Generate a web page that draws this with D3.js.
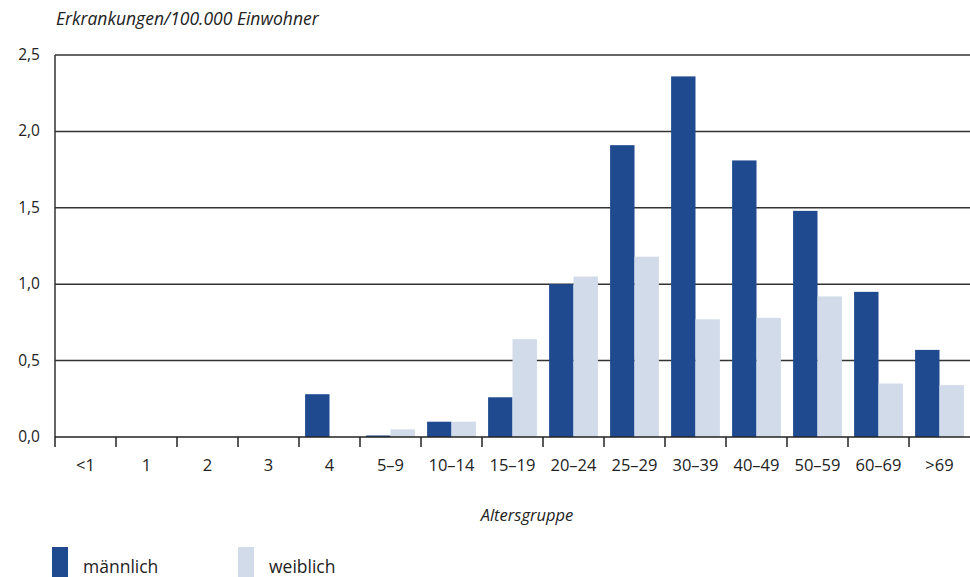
<!DOCTYPE html>
<html>
<head>
<meta charset="utf-8">
<script src="https://cdn.jsdelivr.net/npm/d3@7"></script>
<style>
  body { margin: 0; background: #fff; }
  text { font-family: "Open Sans", Lato, sans-serif; fill: #222; }
</style>
</head>
<body>
<script>
  var categories = ["<1", "1", "2", "3", "4", "5–9", "10–14", "15–19", "20–24", "25–29", "30–39", "40–49", "50–59", "60–69", ">69"];
  var maleValues = [0, 0, 0, 0, 0.28, 0.01, 0.10, 0.26, 1.0, 1.91, 2.36, 1.81, 1.48, 0.95, 0.57];
  var femaleValues = [0, 0, 0, 0, 0, 0.05, 0.10, 0.64, 1.05, 1.18, 0.77, 0.78, 0.92, 0.35, 0.34];
  var yTicks = [0, 0.5, 1.0, 1.5, 2.0, 2.5];
  var seriesNames = ["männlich", "weiblich"];

  var margin = {top: 55, right: 0, bottom: 140, left: 55},
      width = 970 - margin.left - margin.right,
      height = 577 - margin.top - margin.bottom;

  var color = d3.scaleOrdinal()
    .domain(seriesNames)
    .range(["#1f4a8f", "#d1dbe9"]);

  var svg = d3.select("body").append("svg")
      .attr("width", 970)
      .attr("height", 577);

  var g = svg.append("g")
      .attr("transform", "translate(" + margin.left + "," + margin.top + ")");

  var x0 = d3.scaleBand()
    .domain(categories)
    .range([0, width])
    .paddingInner(0.2)
    .paddingOuter(0.1);

  var x1 = d3.scaleBand()
    .domain(seriesNames)
    .range([0, x0.bandwidth()]);

  var y = d3.scaleLinear()
    .domain([0, 2.5])
    .range([height, 0]);

  var fmt = function(d) { return d3.format(".1f")(d).replace(".", ","); };

  // gridlines
  g.selectAll(".grid")
    .data(yTicks.filter(function(d) { return d > 0; }))
    .enter().append("line")
    .attr("x1", 0).attr("x2", width)
    .attr("y1", function(d) { return y(d); })
    .attr("y2", function(d) { return y(d); })
    .attr("stroke", "#333")
    .attr("stroke-width", 1.5);

  // y labels
  g.selectAll(".ylab")
    .data(yTicks)
    .enter().append("text")
    .attr("x", -15)
    .attr("y", function(d) { return y(d) + 5; })
    .attr("text-anchor", "end")
    .style("font-size", "15.5px")
    .text(fmt);

  var data = categories.map(function(c, i) {
    return {cat: c, values: [
      {key: seriesNames[0], v: maleValues[i]},
      {key: seriesNames[1], v: femaleValues[i]}
    ]};
  });

  var groups = g.selectAll(".grp")
    .data(data)
    .enter().append("g")
    .attr("transform", function(d) { return "translate(" + x0(d.cat) + ",0)"; });

  groups.selectAll("rect")
    .data(function(d) { return d.values; })
    .enter().append("rect")
    .attr("x", function(d) { return x1(d.key); })
    .attr("width", x1.bandwidth())
    .attr("y", function(d) { return y(d.v); })
    .attr("height", function(d) { return height - y(d.v); })
    .attr("fill", function(d) { return color(d.key); });

  // axes lines
  g.append("line")
    .attr("x1", 0).attr("x2", 0)
    .attr("y1", 0).attr("y2", height)
    .attr("stroke", "#333").attr("stroke-width", 1.5);
  g.append("line")
    .attr("x1", 0).attr("x2", width)
    .attr("y1", height).attr("y2", height)
    .attr("stroke", "#222").attr("stroke-width", 1.5);

  // category ticks at band boundaries
  var step = x0.step();
  g.selectAll(".tick")
    .data(categories)
    .enter().append("line")
    .attr("x1", function(d) { return x0(d) - x0.paddingOuter() * step; })
    .attr("x2", function(d) { return x0(d) - x0.paddingOuter() * step; })
    .attr("y1", height).attr("y2", height + 10)
    .attr("stroke", "#222").attr("stroke-width", 1.5);

  g.selectAll(".xlab")
    .data(categories)
    .enter().append("text")
    .attr("x", function(d) { return x0(d) + x0.bandwidth() / 2; })
    .attr("y", height + 34)
    .attr("text-anchor", "middle")
    .style("font-size", "16.5px")
    .text(function(d) { return d; });

  // titles
  svg.append("text")
    .attr("x", 56).attr("y", 25)
    .style("font-size", "17.5px")
    .style("font-style", "italic")
    .text("Erkrankungen/100.000 Einwohner");

  svg.append("text")
    .attr("x", 527).attr("y", 521)
    .attr("text-anchor", "middle")
    .style("font-size", "16.5px")
    .style("font-style", "italic")
    .text("Altersgruppe");

  // legend
  var legend = svg.selectAll(".legend")
    .data(seriesNames)
    .enter().append("g")
    .attr("transform", function(d, i) { return "translate(" + (52 + i * 186) + ",547)"; });

  legend.append("rect")
    .attr("width", 16).attr("height", 30)
    .attr("fill", function(d) { return color(d); });

  legend.append("text")
    .attr("x", 31).attr("y", 26)
    .style("font-size", "17.5px")
    .text(function(d) { return d; });
</script>
</body>
</html>
